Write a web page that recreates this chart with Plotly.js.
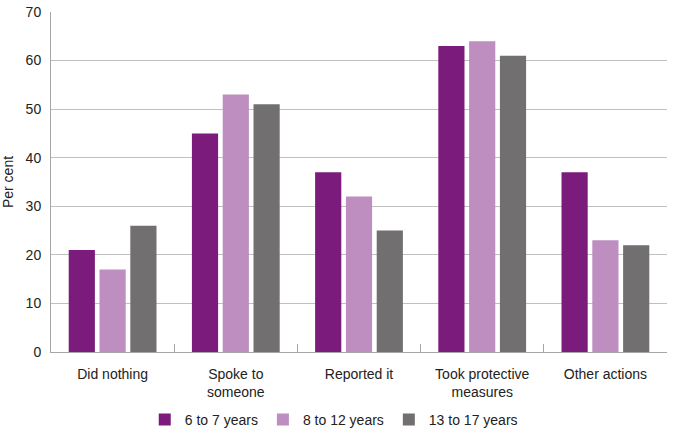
<!DOCTYPE html>
<html>
<head>
<meta charset="utf-8">
<script src="https://cdn.plot.ly/plotly-3.0.1.min.js"></script>
<style>html,body{margin:0;padding:0;background:#fff;}#chart{width:675px;height:444px;}</style>
</head>
<body>
<div id="chart"></div>
<script>
const categories = ["Did nothing", "Spoke to<br>someone", "Reported it", "Took protective<br>measures", "Other actions"];
const seriesNames = ["6 to 7 years", "8 to 12 years", "13 to 17 years"];
const age6to7 = [21, 45, 37, 63, 37];
const age8to12 = [17, 53, 32, 64, 23];
const age13to17 = [26, 51, 25, 61, 22];
const colors = ["#7b1c7c", "#bd8ebf", "#716f70"];

const seriesValues = [age6to7, age8to12, age13to17];
const traces = seriesValues.map((vals, i) => ({
  type: "bar",
  name: seriesNames[i],
  x: categories,
  y: vals,
  marker: {color: colors[i]},
  hoverinfo: "none"
}));

const font = {family: "Liberation Sans, Arial, sans-serif", size: 14, color: "#222"};
const layout = {
  width: 675, height: 444,
  margin: {l: 51, r: 8, t: 12, b: 92, autoexpand: false},
  paper_bgcolor: "#fff", plot_bgcolor: "#fff",
  font: font,
  barmode: "group",
  bargap: 0.25,
  bargroupgap: 0.15,
  showlegend: true,
  legend: {orientation: "h", x: 0.459, xanchor: "center", yref: "container", y: 0.054, yanchor: "middle",
           font: font, itemwidth: 30, tracegroupgap: 0},
  xaxis: {
    automargin: false,
    showline: true, linecolor: "#a6a6a6", linewidth: 1,
    ticks: "inside", tickson: "boundaries", ticklen: 8, tickcolor: "#a6a6a6",
    showgrid: false, tickfont: font, ticklabelstandoff: 9
  },
  yaxis: {
    automargin: false,
    range: [0, 70], dtick: 10, showline: true, linecolor: "#a6a6a6", linewidth: 1,
    showgrid: true, gridcolor: "#c0c0c0", gridwidth: 1, zeroline: false,
    ticks: "", tickfont: font, ticklabelstandoff: 6,
    title: {text: "Per cent", font: font, standoff: 12}
  }
};
Plotly.newPlot("chart", traces, layout, {displayModeBar: false, staticPlot: true});
</script>
</body>
</html>
